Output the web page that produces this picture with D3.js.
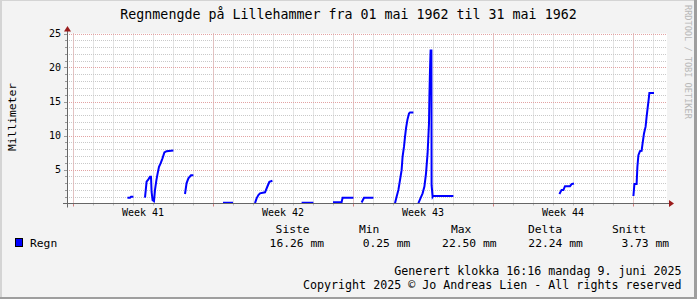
<!DOCTYPE html>
<html><head><meta charset="utf-8">
<script src="https://cdn.jsdelivr.net/npm/d3@7"></script>
<style>
body{margin:0;background:#f3f3f3;}
svg{display:block;}
text{font-family:"DejaVu Sans Mono",monospace;fill:#000;}
</style>
</head><body><svg id="c" width="697" height="299"></svg>
<script>
// ---------- data ----------
const title = "Regnmengde på Lillehammer fra 01 mai 1962 til 31 mai 1962";
const yLabel = "Millimeter";
const yTicks = [5, 10, 15, 20, 25];
const yMax = 25;
const totalDays = 30;
const firstMidnight = 0.3;           // day offset of first day boundary
const weekLabels = ["Week 41", "Week 42", "Week 43", "Week 44"];
const seriesName = "Regn";
// time in days from graph start (null value = gap)
const regnDays = [
  3.02, 3.15, 3.2, 3.32, 3.6,
  3.9, 3.98, 4.07, 4.15, 4.2, 4.23, 4.28, 4.35, 4.4, 4.47, 4.53, 4.6, 4.68, 4.77, 4.87, 4.98, 5.32, 5.6,
  5.9, 5.98, 6.07, 6.2, 6.32, 7.0,
  7.8, 8.3, 9.0,
  9.4, 9.48, 9.57, 9.65, 9.9, 10.02, 10.12, 10.27, 11.0,
  11.73, 12.32, 12.8,
  13.3, 13.73, 13.78, 14.32, 14.5,
  14.73, 14.85, 15.32, 16.0,
  16.4, 16.48, 16.57, 16.65, 16.73, 16.78, 16.85, 16.9, 16.95, 17.02, 17.1, 17.15, 17.32, 17.45,
  17.57, 17.78, 17.87, 17.95, 18.03, 18.1, 18.12, 18.15, 18.18, 18.22, 18.23, 18.28, 18.3, 19.32, 20.0,
  24.62, 24.73, 24.82, 24.9, 25.15, 25.23, 25.35, 27.0,
  28.32, 28.37, 28.48, 28.52, 28.57, 28.65, 28.73, 28.78, 28.85, 28.93, 28.98, 29.03, 29.08, 29.12, 29.35
];
const regnValues = [
  0.85, 0.85, 1.0, 1.0, null,
  0.85, 3.2, 3.55, 3.95, 3.95, 1.7, 0.5, 0.35, 2.0, 3.45, 4.4, 5.4, 5.9, 6.6, 7.5, 7.7, 7.8, null,
  1.4, 3.0, 3.7, 4.15, 4.15, null,
  0.1, 0.1, null,
  0.05, 0.75, 1.25, 1.5, 1.65, 2.5, 3.2, 3.35, null,
  0.1, 0.1, null,
  0.2, 0.2, 0.85, 0.85, null,
  0.15, 0.85, 0.85, null,
  0.05, 1.0, 2.0, 3.45, 4.9, 6.9, 8.35, 9.8, 11.05, 12.3, 13.25, 13.4, 13.4, null,
  0.05, 1.5, 2.5, 4.4, 7.4, 11.8, 15.7, 19.6, 22.5, 22.5, 2.7, 1.0, 1.1, 1.1, null,
  1.4, 2.0, 2.0, 2.55, 2.55, 2.85, 2.95, null,
  1.1, 2.85, 2.85, 5.4, 7.1, 7.7, 7.75, 8.85, 10.3, 11.3, 12.75, 14.0, 15.2, 16.26, 16.26
];
const legendHeaders = ["Siste", "Min", "Max", "Delta", "Snitt"];
const legendValues = ["16.26 mm", "0.25 mm", "22.50 mm", "22.24 mm", "3.73 mm"];
const footerLines = ["Generert klokka 16:16 mandag 9. juni 2025",
                     "Copyright 2025 © Jo Andreas Lien - All rights reserved"];
const watermark = "RRDTOOL / TOBI OETIKER";

// ---------- layout ----------
const W = 697, H = 299;
const X0 = 67, X1 = 667, Y0 = 203.5, Y1 = 33.5;
const svg = d3.select("#c");

svg.append("rect").attr("width", W).attr("height", H).attr("fill", "#f3f3f3");
// frame
svg.append("rect").attr("x", 0).attr("y", 0).attr("width", W).attr("height", 1).attr("fill", "#d4d4d4");
svg.append("rect").attr("x", 0).attr("y", 0).attr("width", 2).attr("height", H).attr("fill", "#d4d4d4");
svg.append("rect").attr("x", W - 3).attr("y", 0).attr("width", 3).attr("height", H).attr("fill", "#9e9e9e");
svg.append("rect").attr("x", 0).attr("y", H - 2).attr("width", W).attr("height", 2).attr("fill", "#9e9e9e");

const x = d3.scaleLinear().domain([0, totalDays]).range([X0, X1]);
const y = d3.scaleLinear().domain([0, yMax]).range([Y0, Y1]);

// canvas
svg.append("rect").attr("x", X0).attr("y", Y1).attr("width", X1 - X0).attr("height", Y0 - Y1).attr("fill", "#fff");

const g = svg.append("g");
const minorColor = "#c9c9c9", majorColor = "#e2a3a3";

// horizontal grid
const minorY = d3.range(1, yMax + 1).filter(v => v % 5 !== 0);
g.selectAll(".hmin").data(minorY).join("line")
  .attr("x1", X0).attr("x2", X1).attr("y1", d => Math.round(y(d)) + 0.5).attr("y2", d => Math.round(y(d)) + 0.5)
  .attr("stroke", minorColor).attr("stroke-dasharray", "1,1");
// vertical minor grid (days)
const dayLines = d3.range(firstMidnight, totalDays, 1);
g.selectAll(".vmin").data(dayLines).join("line")
  .attr("x1", d => Math.round(x(d)) + 0.5).attr("x2", d => Math.round(x(d)) + 0.5)
  .attr("y1", Y1).attr("y2", Y0)
  .attr("stroke", minorColor).attr("stroke-dasharray", "1,1");
// major grid
g.selectAll(".hmaj").data(yTicks).join("line")
  .attr("x1", X0).attr("x2", X1).attr("y1", d => Math.round(y(d)) + 0.5).attr("y2", d => Math.round(y(d)) + 0.5)
  .attr("stroke", majorColor).attr("stroke-dasharray", "1,1");
const weekLines = d3.range(firstMidnight, totalDays, 7);
g.selectAll(".vmaj").data(weekLines).join("line")
  .attr("x1", d => Math.round(x(d)) + 0.5).attr("x2", d => Math.round(x(d)) + 0.5)
  .attr("y1", Y1).attr("y2", Y0)
  .attr("stroke", majorColor).attr("stroke-dasharray", "1,1");

// y ticks
g.selectAll(".ytm").data(minorY).join("line")
  .attr("x1", X0 - 2).attr("x2", X0).attr("y1", d => Math.round(y(d)) + 0.5).attr("y2", d => Math.round(y(d)) + 0.5)
  .attr("stroke", "#999");
g.selectAll(".ytM").data(yTicks).join("line")
  .attr("x1", X0 - 3).attr("x2", X0).attr("y1", d => Math.round(y(d)) + 0.5).attr("y2", d => Math.round(y(d)) + 0.5)
  .attr("stroke", "#999");
// x ticks
g.selectAll(".xtm").data(dayLines).join("line")
  .attr("x1", d => Math.round(x(d)) + 0.5).attr("x2", d => Math.round(x(d)) + 0.5)
  .attr("y1", Y0).attr("y2", Y0 + 2).attr("stroke", "#bbb");
g.selectAll(".xtM").data(weekLines).join("line")
  .attr("x1", d => Math.round(x(d)) + 0.5).attr("x2", d => Math.round(x(d)) + 0.5)
  .attr("y1", Y0).attr("y2", Y0 + 3).attr("stroke", "#d08080");

// y tick labels
g.selectAll(".yl").data(yTicks).join("text")
  .attr("x", X0 - 6).attr("y", d => y(d)).attr("dy", "0.35em")
  .attr("text-anchor", "end").attr("font-size", "10px").text(d => d);
// week labels
g.selectAll(".wl").data(weekLabels).join("text")
  .attr("x", (d, i) => x(firstMidnight + 7 * i + 3.5)).attr("y", 216)
  .attr("text-anchor", "middle").attr("font-size", "10px").text(d => d);

// data line
const pts = regnDays.map((d, i) => [d, regnValues[i]]);
const line = d3.line().defined(d => d[1] != null).x(d => x(d[0])).y(d => y(d[1]));
svg.append("path").attr("d", line(pts)).attr("fill", "none")
  .attr("stroke", "#0000ff").attr("stroke-width", 2).attr("stroke-linejoin", "miter");

// axes
svg.append("line").attr("x1", X0 - 4).attr("x2", X1 + 3).attr("y1", Y0).attr("y2", Y0).attr("stroke", "#666");
svg.append("line").attr("x1", X0 + 0.5).attr("x2", X0 + 0.5).attr("y1", Y0 + 4).attr("y2", Y1 - 4).attr("stroke", "#666");
svg.append("path").attr("d", `M${X1 + 2},${Y0 - 3.5}L${X1 + 7},${Y0}L${X1 + 2},${Y0 + 3.5}Z`).attr("fill", "#9b1c1c");
svg.append("path").attr("d", `M${X0 - 3},${Y1 - 2}L${X0 + 0.5},${Y1 - 7.5}L${X0 + 4},${Y1 - 2}Z`).attr("fill", "#9b1c1c");

// title
svg.append("text").attr("x", 348.5).attr("y", 19).attr("text-anchor", "middle")
  .attr("font-size", "13.3px").text(title);
// y label
svg.append("text").attr("transform", `translate(16,117) rotate(-90)`).attr("text-anchor", "middle")
  .attr("font-size", "11.3px").text(yLabel);
// watermark
svg.append("text").attr("transform", `translate(685,5) rotate(90)`).attr("text-anchor", "start")
  .attr("font-size", "8.6px").style("fill", "#b8b8b8").text(watermark);

// legend
const hdrX = [275.6, 359, 451, 528, 612];
svg.selectAll(".lh").data(legendHeaders).join("text")
  .attr("x", (d, i) => hdrX[i]).attr("y", 233).attr("font-size", "11.3px").text(d => d);
svg.selectAll(".lv").data(legendValues).join("text")
  .attr("x", (d, i) => 324 + i * 86.25).attr("y", 247).attr("text-anchor", "end")
  .attr("font-size", "11.3px").text(d => d);
svg.append("rect").attr("x", 15.5).attr("y", 238.5).attr("width", 7).attr("height", 8)
  .attr("fill", "#0000ff").attr("stroke", "#000").attr("stroke-width", 1);
svg.append("text").attr("x", 30).attr("y", 247).attr("font-size", "11.3px").text(seriesName);

// footer
svg.selectAll(".ft").data(footerLines).join("text")
  .attr("x", 681.5).attr("y", (d, i) => 274.5 + i * 14.5).attr("text-anchor", "end")
  .attr("font-size", "11.65px").text(d => d);
</script>
</body></html>
